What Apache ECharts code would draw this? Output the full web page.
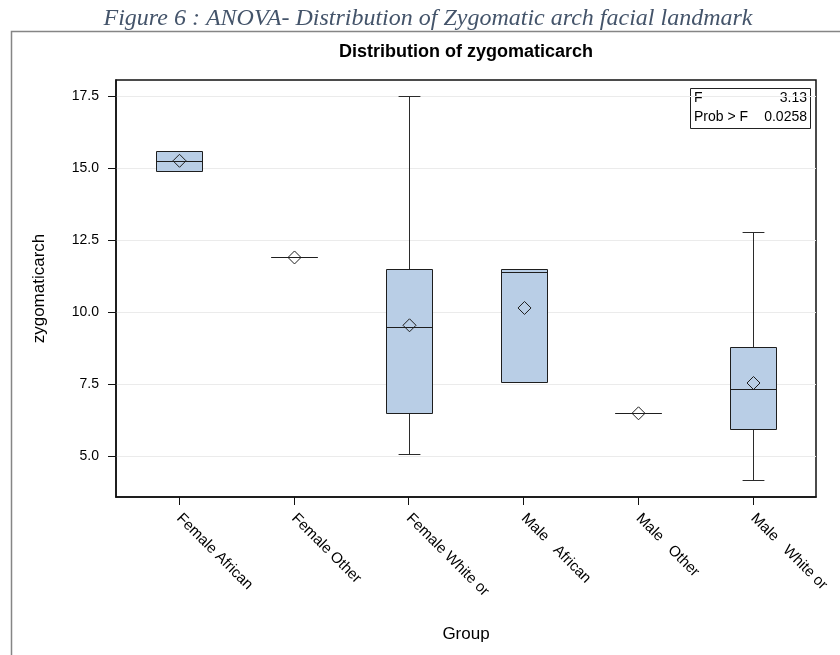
<!DOCTYPE html>
<html>
<head>
<meta charset="utf-8">
<script src="https://cdn.jsdelivr.net/npm/echarts@6/dist/echarts.min.js"></script>
<style>
  html, body { margin: 0; padding: 0; background: #ffffff; }
  #chart { width: 840px; height: 655px; }
</style>
</head>
<body>
<div id="chart"></div>
<script>
// Groups and their five-number summaries plus group means
const categories = ['Female African', 'Female Other', 'Female White or', 'Male   African', 'Male   Other', 'Male   White or'];
const whiskerLow  = [14.9, 11.9, 5.1, 7.6, 6.5, 4.2];
const quartile1   = [14.9, 11.9, 6.5, 7.6, 6.5, 5.95];
const medians     = [15.25, 11.9, 9.5, 11.4, 6.5, 7.35];
const quartile3   = [15.6, 11.9, 11.5, 11.5, 6.5, 8.8];
const whiskerHigh = [15.6, 11.9, 17.5, 11.5, 6.5, 12.8];
const means       = [15.25, 11.9, 9.55, 10.15, 6.5, 7.55];
const yTicks = [5, 7.5, 10, 12.5, 15, 17.5];
const groupTicks = [0, 1, 2, 3, 4, 5];
const fValue = '3.13';
const probValue = '0.0258';

const rows = categories.map((c, i) => [i, whiskerLow[i], quartile1[i], medians[i], quartile3[i], whiskerHigh[i], means[i]]);

const chart = echarts.init(document.getElementById('chart'), null, { renderer: 'canvas' });

const px = v => Math.round(v) + 0.5;

// Box, whiskers with short caps, median bar and hollow mean diamond
function renderBox(params, api) {
  const i = api.value(0);
  const lo = api.coord([i, api.value(1)]);
  const q1 = api.coord([i, api.value(2)]);
  const md = api.coord([i, api.value(3)]);
  const q3 = api.coord([i, api.value(4)]);
  const hi = api.coord([i, api.value(5)]);
  const mn = api.coord([i, api.value(6)]);
  const boxW = api.size([0.4, 0])[0];
  const capW = api.size([0.19, 0])[0];
  const cx = px(lo[0]);
  const left = Math.round(lo[0] - boxW / 2) + 0.5;
  const right = left + Math.round(boxW);
  const lineStyle = { stroke: '#2b2b2b', lineWidth: 1 };
  const kids = [];
  if (hi[1] < q3[1] - 0.5) {
    kids.push({ type: 'line', shape: { x1: cx, y1: px(q3[1]), x2: cx, y2: px(hi[1]) }, style: lineStyle });
    kids.push({ type: 'line', shape: { x1: cx - capW / 2, y1: px(hi[1]), x2: cx + capW / 2, y2: px(hi[1]) }, style: lineStyle });
  }
  if (lo[1] > q1[1] + 0.5) {
    kids.push({ type: 'line', shape: { x1: cx, y1: px(q1[1]), x2: cx, y2: px(lo[1]) }, style: lineStyle });
    kids.push({ type: 'line', shape: { x1: cx - capW / 2, y1: px(lo[1]), x2: cx + capW / 2, y2: px(lo[1]) }, style: lineStyle });
  }
  const top = px(q3[1]);
  const bottom = px(q1[1]);
  kids.push({
    type: 'rect',
    shape: { x: left, y: top, width: right - left, height: bottom - top },
    style: { fill: '#b9cee6', stroke: '#1e1e1e', lineWidth: 1 }
  });
  kids.push({ type: 'line', shape: { x1: left, y1: px(md[1]), x2: right, y2: px(md[1]) }, style: { stroke: '#1e1e1e', lineWidth: 1 } });
  const d = 6.5;
  const my = mn[1];
  kids.push({
    type: 'polygon',
    shape: { points: [[cx, my - d], [cx + d, my], [cx, my + d], [cx - d, my]] },
    style: { fill: 'none', stroke: '#1e1e1e', lineWidth: 1 }
  });
  return { type: 'group', children: kids };
}

const option = {
  backgroundColor: '#ffffff',
  animation: false,
  grid: {
    left: 116, top: 80, width: 700, height: 417,
    show: true, borderColor: '#111', borderWidth: 1.5, backgroundColor: 'transparent'
  },
  xAxis: {
    type: 'value',
    min: -0.5485,
    max: 5.546,
    name: 'Group',
    nameLocation: 'middle',
    nameGap: 129,
    nameTextStyle: { fontFamily: 'Liberation Sans, Arial', fontSize: 17, color: '#000' },
    axisLine: { show: true, onZero: false, lineStyle: { color: '#111', width: 1.5 } },
    axisTick: { show: true, customValues: groupTicks, length: 8, lineStyle: { color: '#111', width: 1 } },
    axisLabel: {
      customValues: groupTicks,
      formatter: v => categories[Math.round(v)],
      rotate: -45,
      margin: 19,
      fontFamily: 'Liberation Sans, Arial',
      fontSize: 15,
      color: '#000'
    },
    splitLine: { show: false }
  },
  yAxis: {
    type: 'value',
    min: 3.6,
    max: 18.05,
    name: 'zygomaticarch',
    nameLocation: 'middle',
    nameRotate: 90,
    nameGap: 68,
    nameTextStyle: { fontFamily: 'Liberation Sans, Arial', fontSize: 17, color: '#000' },
    axisLine: { show: true, onZero: false, lineStyle: { color: '#111', width: 1.5 } },
    axisTick: { show: true, customValues: yTicks, length: 8, lineStyle: { color: '#111', width: 1 } },
    axisLabel: {
      customValues: yTicks,
      formatter: v => Number(v).toFixed(1),
      margin: 17,
      fontFamily: 'Liberation Sans, Arial',
      fontSize: 14,
      color: '#000'
    },
    splitLine: { show: true, lineStyle: { color: '#ebebeb', width: 1 } }
  },
  series: [{
    type: 'custom',
    renderItem: renderBox,
    data: rows,
    encode: { x: 0, y: [1, 2, 3, 4, 5, 6] },
    clip: false
  }],
  graphic: [
    {
      type: 'text', x: 428, y: 19,
      style: {
        text: 'Figure 6 : ANOVA- Distribution of Zygomatic arch facial landmark',
        font: 'italic 24px "Liberation Serif", "Times New Roman", serif',
        fill: '#44546a', align: 'center', verticalAlign: 'middle'
      }
    },
    {
      type: 'rect',
      shape: { x: 11.5, y: 31.5, width: 900, height: 700 },
      style: { fill: 'none', stroke: '#858585', lineWidth: 1.5 }
    },
    {
      type: 'text', x: 466, y: 52,
      style: {
        text: 'Distribution of zygomaticarch',
        font: 'bold 18px "Liberation Sans", Arial, sans-serif',
        fill: '#000', align: 'center', verticalAlign: 'middle'
      }
    },
    {
      type: 'rect',
      shape: { x: 690.5, y: 88.5, width: 120, height: 40 },
      style: { fill: '#fff', stroke: '#222', lineWidth: 1 }
    },
    {
      type: 'text', x: 694, y: 98,
      style: { text: 'F', font: '14px "Liberation Sans", Arial', fill: '#000', align: 'left', verticalAlign: 'middle' }
    },
    {
      type: 'text', x: 807, y: 98,
      style: { text: fValue, font: '14px "Liberation Sans", Arial', fill: '#000', align: 'right', verticalAlign: 'middle' }
    },
    {
      type: 'text', x: 694, y: 117,
      style: { text: 'Prob > F', font: '14px "Liberation Sans", Arial', fill: '#000', align: 'left', verticalAlign: 'middle' }
    },
    {
      type: 'text', x: 807, y: 117,
      style: { text: probValue, font: '14px "Liberation Sans", Arial', fill: '#000', align: 'right', verticalAlign: 'middle' }
    }
  ]
};

chart.setOption(option);
</script>
</body>
</html>
